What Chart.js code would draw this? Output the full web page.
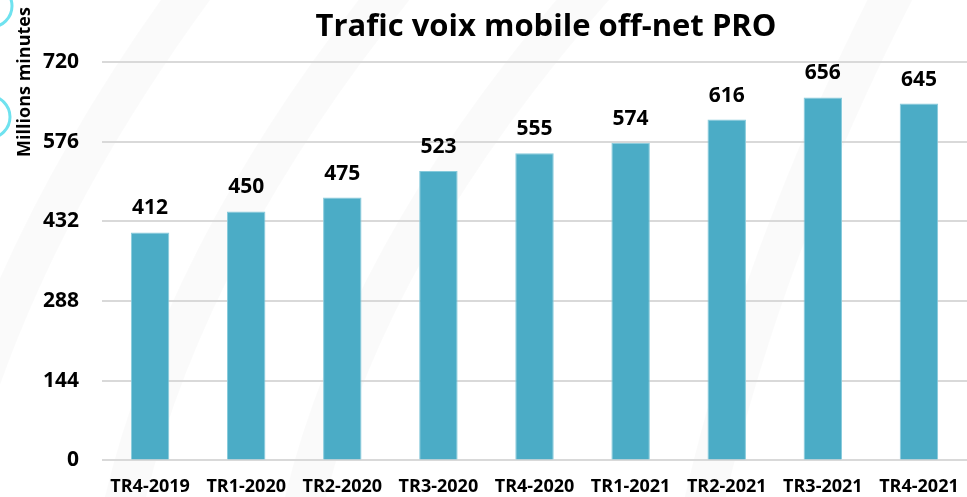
<!DOCTYPE html>
<html>
<head>
<meta charset="utf-8">
<script src="https://cdn.jsdelivr.net/npm/chart.js@4"></script>
<style>
  html, body { margin: 0; padding: 0; background: #ffffff; }
  #wrap { width: 967px; height: 497px; position: relative; }
</style>
</head>
<body>
<div id="wrap"><canvas id="trafic"></canvas></div>
<script>
var quarters = ['TR4-2019', 'TR1-2020', 'TR2-2020', 'TR3-2020', 'TR4-2020', 'TR1-2021', 'TR2-2021', 'TR3-2021', 'TR4-2021'];
var minutes  = [412, 450, 475, 523, 555, 574, 616, 656, 645];
var yTicks   = [0, 144, 288, 432, 576, 720];

var FONT = '"Open Sans", sans-serif';
var TITLE = 'Trafic voix mobile off-net PRO';

// background swooshes, title, values over the bars, rotated axis title, cyan rings
var decorPlugin = {
    id: 'decor',
    beforeDraw: function(chart) {
        var c = chart.ctx;
        c.save();
        c.strokeStyle = 'rgba(0,0,0,0.018)';
        c.lineWidth = 40;
        [[-60, 700], [120, 900], [300, 1100], [700, 1400]].forEach(function(p) {
            c.beginPath();
            c.moveTo(p[0], 520);
            c.quadraticCurveTo(p[0] + 60, 250, p[1] - 500, -20);
            c.stroke();
        });
        c.strokeStyle = '#6fe2ef';
        c.lineWidth = 3;
        c.beginPath(); c.arc(-9, 6, 21, 0, Math.PI * 2); c.stroke();
        c.beginPath(); c.arc(-11, 117, 21, 0, Math.PI * 2); c.stroke();
        c.restore();
    },
    afterDraw: function(chart) {
        var c = chart.ctx;
        var meta = chart.getDatasetMeta(0);
        c.save();
        c.fillStyle = '#000000';
        c.textAlign = 'center';
        c.textBaseline = 'alphabetic';
        c.font = 'bold 31px ' + FONT;
        c.fillText(TITLE, 546, 36);
        c.font = 'bold 21px ' + FONT;
        meta.data.forEach(function(bar, i) {
            c.fillText(minutes[i], bar.x, bar.y - 18);
        });
        // axis title
        c.translate(25, 82);
        c.rotate(-Math.PI / 2);
        c.font = 'bold 18px ' + FONT;
        c.textBaseline = 'middle';
        c.fillText('Millions minutes', 0, 0);
        c.restore();
    }
};

var chart = new Chart(document.getElementById('trafic').getContext('2d'), {
    type: 'bar',
    data: {
        labels: quarters,
        datasets: [{
            data: minutes,
            backgroundColor: '#4bacc6',
            borderColor: '#86cadb',
            borderWidth: 1,
            barPercentage: 0.8,
            categoryPercentage: 0.5
        }]
    },
    options: {
        responsive: true,
        maintainAspectRatio: false,
        animation: false,
        layout: { padding: { left: 20, right: -1, top: 62, bottom: -17 } },
        plugins: {
            legend: { display: false },
            tooltip: { enabled: false },
            title: { display: false }
        },
        scales: {
            x: {
                afterFit: function(scale) {
                    // last label stays inside its category, no extra room needed
                    scale.paddingRight = 0;
                },
                grid: { display: false, drawTicks: false },
                border: { display: false },
                ticks: {
                    color: '#000000',
                    font: { family: FONT, size: 18, weight: 'bold' },
                    maxRotation: 0,
                    padding: 16
                }
            },
            y: {
                min: 0,
                max: 720,
                afterBuildTicks: function(axis) {
                    axis.ticks = yTicks.map(function(v) { return { value: v }; });
                },
                grid: { color: '#d9d9d9', lineWidth: 2, drawTicks: false },
                border: { display: false },
                ticks: {
                    color: '#000000',
                    font: { family: FONT, size: 21, weight: 'bold' },
                    padding: 23
                }
            }
        }
    },
    plugins: [decorPlugin]
});
</script>
</body>
</html>
